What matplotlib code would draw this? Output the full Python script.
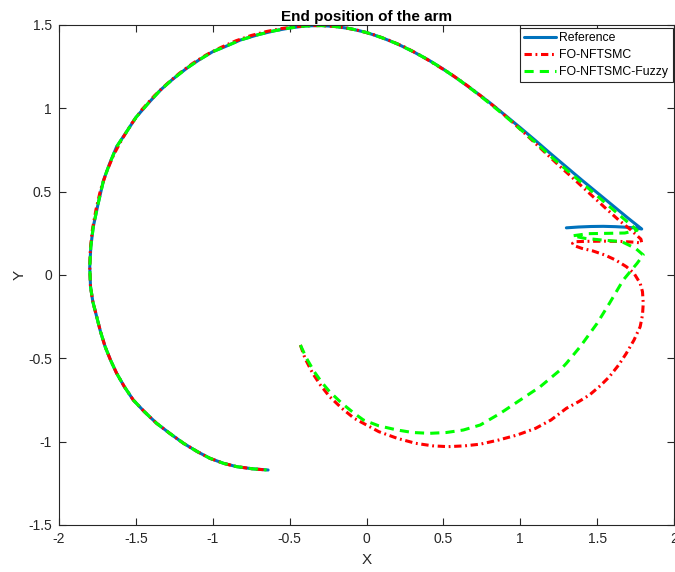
import matplotlib
matplotlib.use("Agg")
import matplotlib.pyplot as plt

# ---------------- data ----------------
ref_x = [1.30, 1.38, 1.46, 1.54, 1.62, 1.70, 1.76, 1.79,
         1.70, 1.60, 1.50, 1.40, 1.30, 1.20, 1.10, 1.00, 0.90, 0.80, 0.70, 0.60,
         0.50, 0.40, 0.30, 0.20, 0.10, 0.00, -0.10, -0.20, -0.30, -0.40, -0.50,
         -0.60, -0.70, -0.82, -0.92, -1.00, -1.09, -1.17, -1.26, -1.34, -1.42,
         -1.50, -1.56, -1.625, -1.67, -1.71, -1.745, -1.777, -1.793, -1.80,
         -1.795, -1.78, -1.755, -1.73, -1.70, -1.665, -1.625, -1.575, -1.517,
         -1.445, -1.365, -1.28, -1.19, -1.10, -1.018, -0.93, -0.844, -0.74, -0.64]
ref_y = [0.283, 0.288, 0.291, 0.292, 0.290, 0.286, 0.281, 0.276,
         0.342, 0.418, 0.494, 0.570, 0.648, 0.726, 0.806, 0.884, 0.960, 1.035, 1.105, 1.172,
         1.235, 1.292, 1.342, 1.387, 1.424, 1.455, 1.477, 1.491, 1.497, 1.494, 1.482,
         1.465, 1.443, 1.410, 1.370, 1.340, 1.290, 1.240, 1.175, 1.110, 1.030,
         0.945, 0.860, 0.770, 0.670, 0.570, 0.430, 0.290, 0.170, 0.050,
         -0.070, -0.160, -0.250, -0.340, -0.430, -0.510, -0.590, -0.670, -0.750,
         -0.820, -0.890, -0.950, -1.010, -1.060, -1.100, -1.130, -1.150, -1.163, -1.170]

fo_x = [-0.43, -0.40, -0.35, -0.30, -0.24, -0.16, -0.08, -0.02, 0.08, 0.20, 0.32,
        0.43, 0.53, 0.64, 0.74, 0.86, 0.98, 1.10, 1.20, 1.30, 1.38, 1.45, 1.52,
        1.58, 1.64, 1.69, 1.74, 1.78, 1.795, 1.80, 1.795, 1.78, 1.74, 1.69, 1.62,
        1.55, 1.47, 1.40, 1.355, 1.34, 1.36, 1.44, 1.55, 1.66, 1.74, 1.79, 1.785,
        1.72, 1.64, 1.55, 1.45, 1.35, 1.26, 1.15, 1.05, 0.95, 0.85, 0.75, 0.65,
        0.55, 0.45, 0.35, 0.25, 0.15, 0.05, -0.05, -0.15, -0.25, -0.35, -0.45,
        -0.55, -0.65, -0.75, -0.85, -0.95, -1.04, -1.13, -1.22, -1.30, -1.38,
        -1.46, -1.53, -1.59, -1.645, -1.69, -1.73, -1.76, -1.783, -1.796, -1.80,
        -1.795, -1.78, -1.755, -1.73, -1.70, -1.665, -1.625, -1.575, -1.517,
        -1.445, -1.365, -1.28, -1.19, -1.10, -1.018, -0.93, -0.844, -0.74, -0.65]
fo_y = [-0.42, -0.50, -0.59, -0.66, -0.73, -0.80, -0.86, -0.89, -0.94, -0.98, -1.01,
        -1.025, -1.03, -1.025, -1.015, -0.99, -0.96, -0.92, -0.87, -0.80, -0.76, -0.72, -0.665,
        -0.61, -0.54, -0.47, -0.39, -0.31, -0.24, -0.17, -0.10, -0.05, 0.01, 0.05, 0.09,
        0.12, 0.145, 0.16, 0.175, 0.19, 0.20, 0.202, 0.203, 0.201, 0.197, 0.192, 0.215,
        0.27, 0.33, 0.405, 0.49, 0.575, 0.650, 0.745, 0.832, 0.917, 0.997, 1.07, 1.14,
        1.205, 1.262, 1.318, 1.367, 1.407, 1.441, 1.467, 1.485, 1.495, 1.497, 1.491,
        1.479, 1.461, 1.437, 1.405, 1.364, 1.322, 1.270, 1.208, 1.145, 1.075,
        0.993, 0.905, 0.815, 0.720, 0.620, 0.510, 0.390, 0.270, 0.160, 0.050,
        -0.070, -0.160, -0.250, -0.340, -0.430, -0.510, -0.590, -0.670, -0.750,
        -0.820, -0.890, -0.950, -1.010, -1.060, -1.100, -1.130, -1.150, -1.163, -1.170]

fz_x = [-0.43, -0.39, -0.34, -0.29, -0.24, -0.16, -0.08, -0.02, 0.08, 0.20, 0.30,
        0.41, 0.52, 0.63, 0.74, 0.87, 1.00, 1.13, 1.26, 1.30, 1.39, 1.50, 1.58,
        1.67, 1.76, 1.80, 1.75, 1.66, 1.53, 1.42, 1.34, 1.44, 1.57, 1.68, 1.76,
        1.67, 1.55, 1.45, 1.34, 1.20, 1.10, 1.00, 0.90, 0.80, 0.70, 0.60, 0.50,
        0.40, 0.30, 0.20, 0.10, 0.00, -0.10, -0.20, -0.30, -0.40, -0.50, -0.60,
        -0.70, -0.82, -0.92, -1.00, -1.09, -1.17, -1.26, -1.34, -1.42, -1.50,
        -1.56, -1.625, -1.67, -1.71, -1.745, -1.777, -1.793, -1.80, -1.795, -1.78,
        -1.755, -1.73, -1.70, -1.665, -1.625, -1.575, -1.517, -1.445, -1.365,
        -1.28, -1.19, -1.10, -1.018, -0.93, -0.844, -0.74, -0.65]
fz_y = [-0.42, -0.50, -0.58, -0.645, -0.70, -0.77, -0.83, -0.87, -0.905, -0.93, -0.945,
        -0.95, -0.945, -0.93, -0.90, -0.83, -0.75, -0.67, -0.57, -0.53, -0.43, -0.29, -0.17,
        -0.03, 0.07, 0.12, 0.16, 0.20, 0.21, 0.22, 0.235, 0.248, 0.250, 0.252, 0.268,
        0.34, 0.435, 0.515, 0.600, 0.710, 0.795, 0.875, 0.955, 1.030, 1.103, 1.172, 1.235,
        1.292, 1.342, 1.387, 1.424, 1.455, 1.477, 1.491, 1.497, 1.494, 1.482, 1.465,
        1.443, 1.410, 1.370, 1.340, 1.290, 1.240, 1.175, 1.110, 1.030, 0.945,
        0.860, 0.770, 0.670, 0.570, 0.430, 0.290, 0.170, 0.050, -0.070, -0.160,
        -0.250, -0.340, -0.430, -0.510, -0.590, -0.670, -0.750, -0.820, -0.890,
        -0.950, -1.010, -1.060, -1.100, -1.130, -1.150, -1.163, -1.170]

labels = ["Reference", "FO-NFTSMC", "FO-NFTSMC-Fuzzy"]
x_ticks = [-2, -1.5, -1, -0.5, 0, 0.5, 1, 1.5, 2]
y_ticks = [-1.5, -1, -0.5, 0, 0.5, 1, 1.5]
tick_labels_x = ["-2", "-1.5", "-1", "-0.5", "0", "0.5", "1", "1.5", "2"]
tick_labels_y = ["-1.5", "-1", "-0.5", "0", "0.5", "1", "1.5"]

# ---------------- figure ----------------
plt.rcParams['font.family'] = ['Liberation Sans', 'DejaVu Sans']
axc = '#262626'
fig = plt.figure(figsize=(6.75, 5.72), dpi=100)
ax = fig.add_axes([59 / 675, 47 / 572, 615 / 675, 500 / 572])

ax.plot(ref_x, ref_y, color='#0072BD', lw=2.2, label=labels[0], solid_capstyle='round')
l2, = ax.plot(fo_x, fo_y, color='#FF0000', lw=2.2, label=labels[1])
l2.set_dashes([2.4, 1.2, 0.6, 1.2])
l3, = ax.plot(fz_x, fz_y, color='#00FF00', lw=2.2, label=labels[2])
l3.set_dashes([3.0, 2.0])

ax.set_xlim(-2, 2)
ax.set_ylim(-1.5, 1.5)
ax.set_xticks(x_ticks)
ax.set_xticklabels(tick_labels_x)
ax.set_yticks(y_ticks)
ax.set_yticklabels(tick_labels_y)
ax.tick_params(direction='in', length=5, width=0.8, colors=axc, labelsize=10,
               top=True, right=True, labelcolor=axc)
ax.tick_params(axis='x', pad=5)
ax.tick_params(axis='y', pad=5)
for s in ax.spines.values():
    s.set_color(axc)
    s.set_linewidth(0.8)

ax.set_title("End position of the arm", fontsize=11, fontweight='bold', color='black', pad=3)
ax.set_xlabel("X", fontsize=11, color=axc, labelpad=5)
ax.set_ylabel("Y", fontsize=11, color=axc, labelpad=1)

leg = ax.legend(loc='upper right', bbox_to_anchor=(0.998, 0.994), fontsize=8.8,
                handlelength=2.6, handletextpad=0.3, borderpad=0.35, labelspacing=0.4,
                fancybox=False, framealpha=1, edgecolor=axc, borderaxespad=0.0)
leg.get_frame().set_linewidth(0.8)

fig.savefig("out.png", dpi=100)
